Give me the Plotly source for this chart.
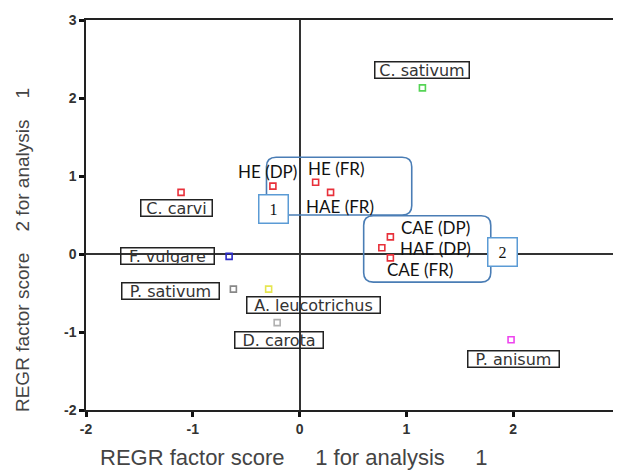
import plotly.graph_objects as go

# factor scores
species = ["C. sativum", "C. carvi", "F. vulgare", "P. sativum",
           "A. leucotrichus", "D. carota", "P. anisum"]
species_x = [1.15, -1.11, -0.66, -0.62, -0.29, -0.21, 1.98]
species_y = [2.13, 0.79, -0.03, -0.45, -0.45, -0.88, -1.10]
species_colors = ["#55d455", "#e8303a", "#2a2ac8", "#888888",
                  "#e6e650", "#b0b0b0", "#ee44ee"]

extracts = ["HE (DP)", "HE (FR)", "HAE (FR)", "CAE (DP)", "HAE (DP)", "CAE (FR)"]
extract_x = [-0.25, 0.15, 0.29, 0.85, 0.77, 0.85]
extract_y = [0.87, 0.92, 0.79, 0.22, 0.08, -0.05]

group_names = ["1", "2"]

tick_vals = [-2, -1, 0, 1, 2, 3]
tick_text = ["-2", "-1", "0", "1", "2", "3"]

fig = go.Figure()

fig.add_trace(go.Scatter(
    x=species_x, y=species_y, mode="markers",
    marker=dict(symbol="square-open", size=6, color=species_colors,
                line=dict(width=1.6, color=species_colors)),
    hoverinfo="text", text=species, showlegend=False))

fig.add_trace(go.Scatter(
    x=extract_x, y=extract_y, mode="markers",
    marker=dict(symbol="square-open", size=6, color="#e8303a",
                line=dict(width=1.6, color="#e8303a")),
    hoverinfo="text", text=extracts, showlegend=False))

# boxed species labels: (xshift, yshift, box width) in pixels
box_style = {
    "C. sativum": (0, 18, 93),
    "C. carvi": (-5, -16, 70),
    "F. vulgare": (-62, 0, 92),
    "P. sativum": (-63, -2, 96),
    "A. leucotrichus": (45, -16, 132),
    "D. carota": (2, -17, 87),
    "P. anisum": (2, -19, 90),
}
for name, x, y in zip(species, species_x, species_y):
    dx, dy, w = box_style[name]
    fig.add_annotation(x=x, y=y, text=name, showarrow=False,
                       xshift=dx, yshift=dy, width=w, height=15,
                       bordercolor="#222", borderwidth=1.5, borderpad=0,
                       bgcolor="rgba(255,255,255,0)",
                       font=dict(family="DejaVu Sans", size=16, color="#333"))

extract_shift = {
    "HE (DP)": (-5, 15),
    "HE (FR)": (21, 14),
    "HAE (FR)": (9, -14),
    "CAE (DP)": (45, 9),
    "HAE (DP)": (54, -1),
    "CAE (FR)": (30, -12),
}
for name, x, y in zip(extracts, extract_x, extract_y):
    dx, dy = extract_shift[name]
    fig.add_annotation(x=x, y=y, text=name, showarrow=False,
                       xshift=dx, yshift=dy,
                       font=dict(family="Lato", size=17, color="#111"))


def rounded(x0, x1, y0, y1, rx=0.09, ry=0.12):
    return (f"M {x0+rx},{y0} L {x1-rx},{y0} Q {x1},{y0} {x1},{y0+ry} "
            f"L {x1},{y1-ry} Q {x1},{y1} {x1-rx},{y1} "
            f"L {x0+rx},{y1} Q {x0},{y1} {x0},{y1-ry} "
            f"L {x0},{y0+ry} Q {x0},{y0} {x0+rx},{y0} Z")


fig.add_shape(type="path", path=rounded(-0.31, 1.05, 0.50, 1.24),
              line=dict(color="#4a7db5", width=1.6))
fig.add_shape(type="path", path=rounded(0.60, 1.79, -0.36, 0.49),
              line=dict(color="#4a7db5", width=1.6))

for g, (gx, gy) in zip(group_names, [(-0.24, 0.575), (1.90, 0.02)]):
    fig.add_annotation(x=gx, y=gy, text=g, showarrow=False,
                       width=28, height=27, borderpad=0,
                       bordercolor="#5b9bd5", borderwidth=1.5, bgcolor="white",
                       font=dict(family="Liberation Serif", size=16, color="#111"))

gap = "\u00a0" * 5
fig.add_annotation(xref="paper", yref="paper", x=0.39, y=-0.122,
                   xanchor="center", yanchor="middle",
                   text="REGR factor score" + gap + "1 for analysis" + gap + "1",
                   showarrow=False,
                   font=dict(family="Liberation Sans", size=22, color="#444"))
gap = "\u00a0" * 4
fig.add_annotation(xref="paper", yref="paper", x=-0.12, y=0.41, textangle=-90,
                   xanchor="center", yanchor="middle",
                   text="REGR factor score" + gap + "2 for analysis" + gap + "1",
                   showarrow=False,
                   font=dict(family="Liberation Sans", size=19, color="#444"))

axis_common = dict(
    range=[-2, 3], tickvals=tick_vals, ticktext=tick_text,
    showgrid=False, automargin=False,
    showline=True, linecolor="#222", linewidth=1.5, mirror=True,
    ticks="outside", ticklen=5, tickwidth=2.5, tickcolor="#111",
    zeroline=True, zerolinecolor="#333", zerolinewidth=1.5,
    tickfont=dict(family="Liberation Sans", size=14, color="#333", weight=700),
)
fig.update_xaxes(**axis_common)
fig.update_yaxes(**axis_common)

# page body has an 8px margin, so the figure is 8px smaller and offset
fig.update_layout(
    width=613, height=463,
    margin=dict(l=78, r=1, t=12, b=61),
    plot_bgcolor="white", paper_bgcolor="white",
    showlegend=False,
)

fig.write_html("out.html")
